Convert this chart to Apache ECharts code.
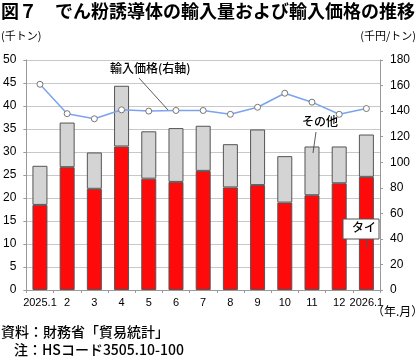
<!DOCTYPE html>
<html><head><meta charset="utf-8">
<script src="https://cdn.jsdelivr.net/npm/echarts@6/dist/echarts.min.js"></script>
<style>html,body{margin:0;padding:0;background:#fff}#c{width:420px;height:363px}</style>
</head><body><div id="c"></div>
<script>
const categories = ['2025.1','2','3','4','5','6','7','8','9','10','11','12','2026.1'];
const thai = [18.5,26.7,22.0,31.2,24.2,23.5,25.9,22.3,22.8,19.0,20.6,23.2,24.6];
const totals = [27.0,36.4,29.9,44.4,34.5,35.2,35.7,31.7,34.9,29.1,31.2,31.2,33.8];
const others = totals.map((t,i)=>+(t-thai[i]).toFixed(1));
const price = [161,138,134,141,140,140.5,140.5,137.5,143,154,147,137.5,142];
const leftTicks = {min:0,max:50,interval:5};
const rightTicks = {min:0,max:180,interval:20};

const F = '"Liberation Sans","Noto Sans CJK JP",sans-serif';
const J = '"Noto Sans CJK JP",sans-serif';
const chart = echarts.init(document.getElementById('c'));
chart.setOption({
  animation:false,
  backgroundColor:'#fff',
  grid:{left:25,right:40,top:60,bottom:73},
  xAxis:{type:'category',data:categories,
    axisLine:{lineStyle:{color:'#999'}},
    axisTick:{show:true,alignWithLabel:false,length:3,lineStyle:{color:'#999'}},
    axisLabel:{color:'#000',fontSize:11,fontFamily:F,margin:7,interval:0}},
  yAxis:[
    {type:'value',min:leftTicks.min,max:leftTicks.max,interval:leftTicks.interval,
     axisLine:{show:true,lineStyle:{color:'#999'}},axisTick:{show:true,length:3,lineStyle:{color:'#999'}},
     splitLine:{lineStyle:{color:'#c8c8c8'}},
     axisLabel:{color:'#000',fontSize:12,fontFamily:F,margin:10}},
    {type:'value',min:rightTicks.min,max:rightTicks.max,interval:rightTicks.interval,
     axisLine:{show:true,lineStyle:{color:'#999'}},axisTick:{show:true,length:3,inside:false,lineStyle:{color:'#999'}},
     splitLine:{show:false},
     axisLabel:{color:'#000',fontSize:12,fontFamily:F,margin:10}}
  ],
  series:[
    {name:'タイ',type:'bar',stack:'a',data:thai,barWidth:15,
     itemStyle:{color:'#ff0a0a',borderColor:'#555',borderWidth:1}},
    {name:'その他',type:'bar',stack:'a',data:others,barWidth:15,
     itemStyle:{color:'#d4d4d4',borderColor:'#555',borderWidth:1}},
    {name:'輸入価格',type:'line',yAxisIndex:1,data:price,
     lineStyle:{color:'#7aa3f0',width:1.5},
     symbol:'circle',symbolSize:6,
     itemStyle:{color:'#fff',borderColor:'#777',borderWidth:1}}
  ],
  graphic:[
    {type:'text',left:1,top:2,z:100,style:{text:'図７　でん粉誘導体の輸入量および輸入価格の推移',font:'bold 18px '+J,fill:'#000'}},
    {type:'text',left:1,top:30,z:100,style:{text:'(千トン)',font:'11px '+J,fill:'#000'}},
    {type:'text',right:4,top:30,z:100,style:{text:'(千円/トン)',font:'11px '+J,fill:'#000'}},
    {type:'text',left:372,top:305,z:100,style:{text:'（年.月）',font:'12px '+J,fill:'#000'}},
    {type:'text',left:1,top:325,z:100,style:{text:'資料：財務省「貿易統計」',font:'500 14px '+J,fill:'#000'}},
    {type:'text',left:14,top:343,z:100,style:{text:'注：HSコード3505.10-100',font:'500 14px '+J,fill:'#000'}},
    {type:'text',left:110,top:62,z:100,style:{text:'輸入価格(右軸)',font:'500 12px '+J,fill:'#000'}},
    {type:'line',z:100,shape:{x1:139,y1:78,x2:168,y2:110},style:{stroke:'#333',lineWidth:0.8}},
    {type:'text',left:302,top:115,z:100,style:{text:'その他',font:'500 12px '+J,fill:'#000'}},
    {type:'line',z:100,shape:{x1:316,y1:132,x2:313,y2:153},style:{stroke:'#333',lineWidth:0.8}},
    {type:'rect',z:100,shape:{x:343,y:219,width:36,height:20},style:{fill:'#fff',stroke:'#555',lineWidth:1}},
    {type:'text',left:352,top:221,z:101,style:{text:'タイ',font:'500 12px '+J,fill:'#000'}},
    {type:'line',z:100,shape:{x1:367,y1:239,x2:367,y2:248},style:{stroke:'#555',lineWidth:1}}
  ]
});
</script></body></html>
